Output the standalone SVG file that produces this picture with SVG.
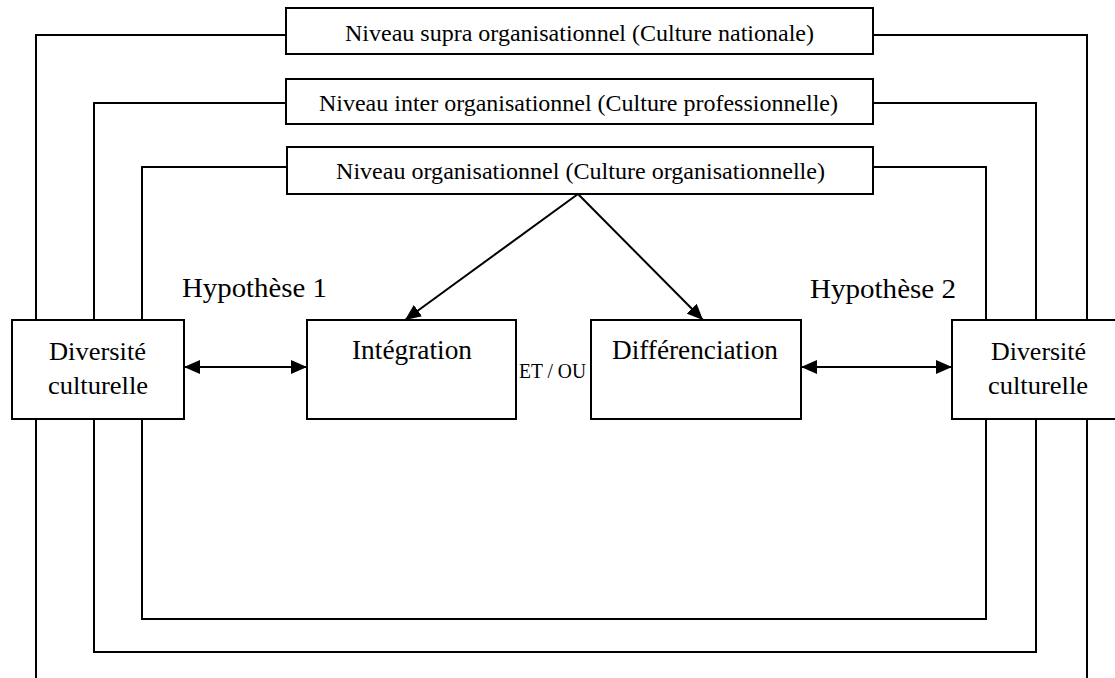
<svg xmlns="http://www.w3.org/2000/svg" width="1115" height="678" viewBox="0 0 1115 678">
<style>
  .box { fill: #fff; stroke: #000; stroke-width: 2; }
  .ln { fill: none; stroke: #000; stroke-width: 2; }
  .t { font-family: "Liberation Serif", "Times New Roman", serif; fill: #000; }
</style>
<defs>
  <marker id="ah" viewBox="0 0 16 14" refX="16" refY="7" markerWidth="16" markerHeight="14" markerUnits="userSpaceOnUse" orient="auto-start-reverse">
    <path d="M0,0 L16,7 L0,14 Z" fill="#000"/>
  </marker>
</defs>
<rect width="1115" height="678" fill="#fff"/>
<g id="connectors">
  <polyline class="ln" points="286,35 36,35 36,320"/>
  <line class="ln" x1="36" y1="419" x2="36" y2="678"/>
  <polyline class="ln" points="873,35 1087,35 1087,320"/>
  <line class="ln" x1="1087" y1="419" x2="1087" y2="678"/>
  <polyline class="ln" points="286,103 94,103 94,320"/>
  <polyline class="ln" points="94,419 94,652 1036,652 1036,419"/>
  <polyline class="ln" points="1036,320 1036,103 873,103"/>
  <polyline class="ln" points="286,167 142,167 142,320"/>
  <polyline class="ln" points="142,419 142,619 986,619 986,419"/>
  <polyline class="ln" points="986,320 986,167 873,167"/>
  <line class="ln" x1="578" y1="194" x2="405" y2="320" marker-end="url(#ah)"/>
  <line class="ln" x1="578" y1="194" x2="703" y2="320" marker-end="url(#ah)"/>
  <line class="ln" x1="184" y1="367" x2="307" y2="367" marker-start="url(#ah)" marker-end="url(#ah)"/>
  <line class="ln" x1="801" y1="367" x2="952" y2="367" marker-start="url(#ah)" marker-end="url(#ah)"/>
</g>
<g id="supra">
  <rect class="box" x="286" y="8" width="587" height="46"/>
  <text class="t" x="345" y="41" font-size="24" textLength="469" lengthAdjust="spacingAndGlyphs">Niveau supra organisationnel (Culture nationale)</text>
</g>
<g id="inter">
  <rect class="box" x="286" y="79" width="587" height="45"/>
  <text class="t" x="319" y="111" font-size="24" textLength="519" lengthAdjust="spacingAndGlyphs">Niveau inter organisationnel (Culture professionnelle)</text>
</g>
<g id="organisationnel">
  <rect class="box" x="287" y="147" width="586" height="47"/>
  <text class="t" x="336" y="179" font-size="24" textLength="489" lengthAdjust="spacingAndGlyphs">Niveau organisationnel (Culture organisationnelle)</text>
</g>
<g id="diversite-gauche">
  <rect class="box" x="12" y="320" width="172" height="99"/>
  <text class="t" x="49" y="360" font-size="25" textLength="97" lengthAdjust="spacingAndGlyphs">Diversité</text>
  <text class="t" x="48" y="394" font-size="25" textLength="100" lengthAdjust="spacingAndGlyphs">culturelle</text>
</g>
<g id="integration">
  <rect class="box" x="307" y="320" width="209" height="99"/>
  <text class="t" x="352" y="359" font-size="28" textLength="120" lengthAdjust="spacingAndGlyphs">Intégration</text>
</g>
<g id="differenciation">
  <rect class="box" x="591" y="320" width="210" height="99"/>
  <text class="t" x="612" y="359" font-size="28" textLength="166" lengthAdjust="spacingAndGlyphs">Différenciation</text>
</g>
<g id="diversite-droite">
  <rect class="box" x="952" y="320" width="172" height="99"/>
  <text class="t" x="991" y="360" font-size="25" textLength="95" lengthAdjust="spacingAndGlyphs">Diversité</text>
  <text class="t" x="988" y="394" font-size="25" textLength="100" lengthAdjust="spacingAndGlyphs">culturelle</text>
</g>
<g id="labels">
  <text class="t" x="182" y="297" font-size="27" textLength="145" lengthAdjust="spacingAndGlyphs">Hypothèse 1</text>
  <text class="t" x="810" y="298" font-size="27" textLength="146" lengthAdjust="spacingAndGlyphs">Hypothèse 2</text>
  <text class="t" x="519" y="378" font-size="20" textLength="67" lengthAdjust="spacingAndGlyphs">ET / OU</text>
</g>
</svg>
